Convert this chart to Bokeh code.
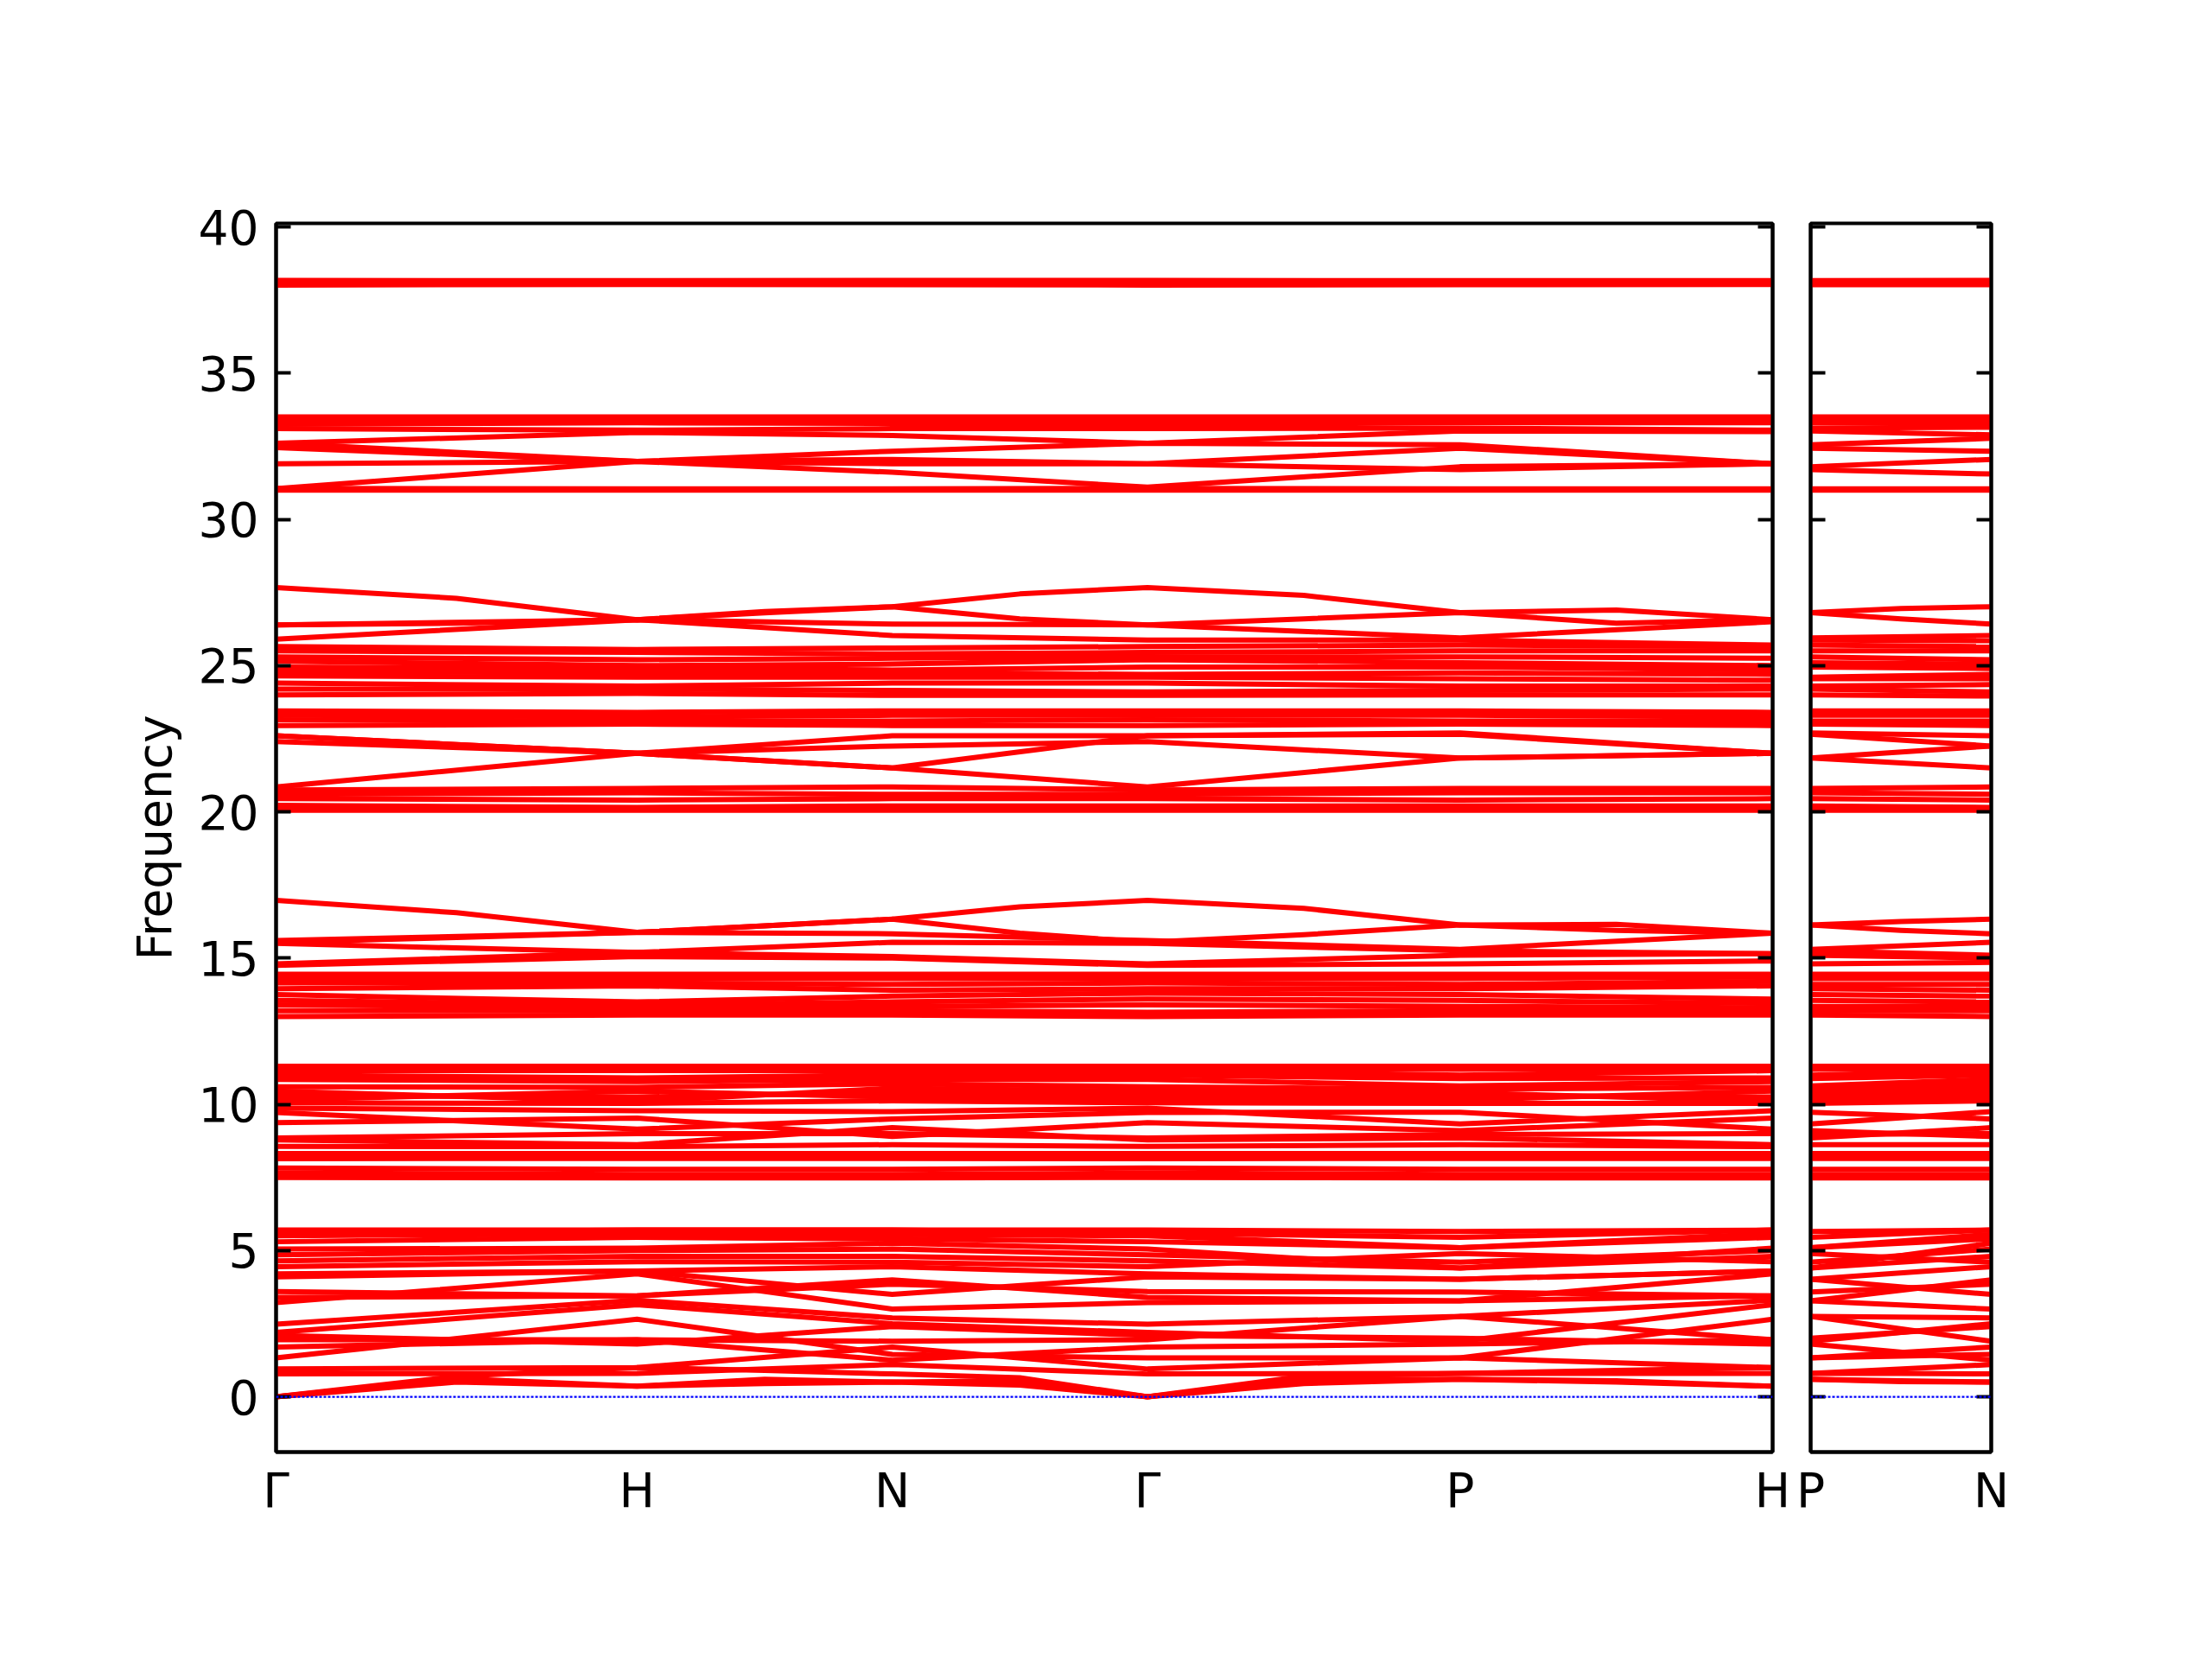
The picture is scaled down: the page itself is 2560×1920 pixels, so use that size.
import numpy as np
from bokeh.plotting import figure
from bokeh.layouts import row
from bokeh.models import FixedTicker, LinearAxis, Span, CustomJSTickFormatter, Range1d
from bokeh.embed import file_html
from bokeh.resources import INLINE

# ---------------- data ----------------
# bcc path (units of 2*pi/a): G-H-N-G-P-H | P-N
kpt_labels_main = ["Γ", "H", "N", "Γ", "P", "H"]
kpt_coords_main = [[0, 0, 0], [0, 1, 0], [0.5, 0.5, 0], [0, 0, 0], [0.5, 0.5, 0.5], [0, 1, 0]]
kpt_labels_side = ["P", "N"]
kpt_coords_side = [[0.5, 0.5, 0.5], [0.5, 0.5, 0]]

y_ticks = [0, 5, 10, 15, 20, 25, 30, 35, 40]

# band values: 8 values -> [G, H, N, G, P, H, P, N]
# 14 values -> [G, m, H, m, N, m, G, m, P, m, H, P, m, N] (m = segment middle)
bands_38 = [
    [38.01, 38.03, 38.02, 38.01, 38.02, 38.03, 38.02, 38.02],
    [38.09, 38.1, 38.1, 38.09, 38.1, 38.1, 38.1, 38.1],
    [38.17, 38.16, 38.17, 38.17, 38.16, 38.16, 38.16, 38.17],
]

bands_31_34 = [
    [33.5, 33.5, 33.5, 33.5, 33.5, 33.5, 33.5, 33.5],
    [33.4, 33.38, 33.4, 33.4, 33.38, 33.4, 33.38, 33.4],
    [33.25, 33.3, 33.28, 33.25, 33.3, 33.3, 33.3, 33.28],
    [33.1, 33.05, 33.1, 33.1, 33.12, 33.05, 33.12, 33.15],
    [32.6, 32.97, 32.87, 32.6, 33.02, 33.0, 33.02, 32.89],
    [32.6, 31.98, 32.33, 32.6, 32.55, 31.9, 32.55, 32.77],
    [32.45, 31.98, 32.05, 31.9, 32.43, 31.9, 32.43, 32.33],
    [31.9, 31.98, 31.61, 31.1, 31.8, 31.9, 31.8, 32.05],
    [31.05, 31.98, 31.9, 31.9, 31.7, 31.9, 31.7, 31.55],
    [31.0, 31.0, 31.0, 31.0, 31.0, 31.0, 31.0, 31.0],
    [31.06, 31.04, 31.04, 31.06, 31.04, 31.04, 31.04, 31.04],
]

bands_20_28 = [
    [27.67, 27.3, 26.57, 26.85, 27.01, 27.45, 27.67, 27.4, 26.81, 26.9, 26.57, 26.81, 26.95, 27.01],
    [26.39, 26.45, 26.57, 26.8, 27.01, 26.6, 26.39, 26.6, 26.81, 26.45, 26.57, 26.81, 26.6, 26.42],
    [26.39, 26.57, 26.42, 26.39, 25.95, 26.5, 25.95, 26.03],
    [25.9, 26.57, 26.03, 25.87, 25.87, 25.7, 25.87, 25.85],
    [25.65, 25.55, 25.6, 25.65, 25.7, 25.65, 25.7, 25.65],
    [25.5, 25.45, 25.4, 25.45, 25.5, 25.5, 25.5, 25.5],
    [25.3, 25.2, 25.25, 25.3, 25.3, 25.25, 25.3, 25.2],
    [25.15, 25.0, 25.05, 25.2, 25.1, 25.0, 25.1, 25.05],
    [24.95, 24.9, 24.85, 24.95, 24.95, 24.85, 24.95, 24.9],
    [24.8, 24.75, 24.75, 24.7, 24.75, 24.7, 24.6, 24.7],
    [24.65, 24.6, 24.6, 24.6, 24.55, 24.5, 24.55, 24.55],
    [24.4, 24.3, 24.4, 24.4, 24.3, 24.3, 24.3, 24.35],
    [24.2, 24.2, 24.15, 24.1, 24.15, 24.2, 24.2, 24.1],
    [24.0, 24.05, 23.98, 23.98, 24.0, 24.0, 24.0, 23.96],
    [23.45, 23.4, 23.45, 23.45, 23.45, 23.4, 23.45, 23.45],
    [23.3, 23.25, 23.3, 23.3, 23.3, 23.25, 23.3, 23.3],
    [23.15, 23.1, 23.1, 23.15, 23.1, 23.1, 23.1, 23.1],
    [22.95, 23.0, 22.95, 22.95, 23.0, 22.95, 23.0, 22.95],
    [22.6, 22.0, 22.6, 22.6, 22.7, 22.0, 22.7, 22.6],
    [22.4, 22.0, 22.25, 22.4, 21.84, 22.0, 21.84, 22.25],
    [22.6, 22.0, 21.5, 22.6, 22.65, 22.0, 22.65, 22.25],
    [20.85, 22.0, 21.5, 20.85, 21.84, 22.0, 21.84, 21.5],
    [20.75, 20.8, 20.85, 20.75, 20.8, 20.8, 20.8, 20.85],
    [20.6, 20.65, 20.6, 20.6, 20.65, 20.65, 20.65, 20.6],
    [20.45, 20.4, 20.45, 20.45, 20.4, 20.45, 20.45, 20.4],
    [20.22, 20.15, 20.2, 20.2, 20.2, 20.2, 20.2, 20.15],
    [20.05, 20.05, 20.05, 20.05, 20.05, 20.05, 20.05, 20.05],
]

bands_13_17 = [
    [16.97, 16.55, 15.88, 16.1, 16.33, 16.75, 16.97, 16.7, 16.13, 16.15, 15.85, 16.13, 16.25, 16.33],
    [15.54, 15.7, 15.88, 16.1, 16.33, 15.85, 15.54, 15.8, 16.13, 15.95, 15.85, 16.13, 15.95, 15.83],
    [15.6, 15.88, 15.83, 15.6, 15.3, 15.85, 15.3, 15.54],
    [15.5, 15.19, 15.54, 15.5, 15.25, 15.15, 15.25, 15.1],
    [14.8, 15.19, 15.05, 14.8, 15.1, 15.15, 15.1, 15.0],
    [14.75, 15.05, 15.0, 14.75, 14.8, 14.9, 14.8, 14.85],
    [14.45, 14.45, 14.45, 14.45, 14.45, 14.45, 14.45, 14.45],
    [14.3, 14.3, 14.3, 14.3, 14.3, 14.35, 14.3, 14.3],
    [14.15, 14.15, 14.1, 14.15, 14.1, 14.2, 14.1, 14.1],
    [13.95, 14.05, 13.9, 13.95, 13.95, 14.05, 13.95, 13.9],
    [13.75, 13.5, 13.7, 13.8, 13.75, 13.6, 13.75, 13.7],
    [13.55, 13.4, 13.5, 13.6, 13.55, 13.45, 13.55, 13.5],
    [13.4, 13.3, 13.35, 13.4, 13.35, 13.3, 13.35, 13.35],
    [13.2, 13.2, 13.2, 13.15, 13.2, 13.2, 13.2, 13.2],
    [13.0, 13.05, 13.05, 13.0, 13.05, 13.05, 13.05, 13.0],
]

bands_7_11 = [
    [7.5, 7.48, 7.48, 7.5, 7.48, 7.48, 7.48, 7.48],
    [7.65, 7.6, 7.6, 7.65, 7.6, 7.6, 7.6, 7.6],
    [7.82, 7.78, 7.78, 7.82, 7.78, 7.78, 7.78, 7.78],
    [8.14, 8.15, 8.15, 8.14, 8.15, 8.15, 8.15, 8.15],
    [8.32, 8.32, 8.32, 8.32, 8.32, 8.32, 8.32, 8.32],
    [8.56, 8.55, 8.62, 8.56, 8.62, 8.55, 8.62, 8.62],
    [8.78, 8.62, 9.2, 8.78, 8.85, 8.62, 8.85, 9.2],
    [8.85, 9.0, 9.0, 8.85, 8.97, 9.0, 8.97, 9.0],
    [9.37, 9.53, 8.9, 9.37, 9.1, 9.53, 9.1, 8.9],
    [9.72, 9.15, 9.5, 9.72, 9.73, 9.15, 9.73, 9.5],
    [9.87, 9.78, 9.75, 9.87, 9.33, 9.78, 9.33, 9.75],
    [10.05, 10.03, 10.12, 10.05, 10.03, 10.03, 10.03, 10.12],
    [10.15, 10.45, 10.25, 10.15, 10.15, 10.45, 10.15, 10.25],
    [10.3, 10.25, 10.4, 10.3, 10.3, 10.25, 10.3, 10.4],
    [10.45, 10.1, 10.55, 10.45, 10.4, 10.1, 10.4, 10.55],
    [10.6, 10.58, 10.7, 10.6, 10.52, 10.58, 10.52, 10.7],
    [10.85, 10.78, 10.85, 10.85, 10.63, 10.78, 10.63, 10.85],
    [11.0, 10.9, 11.0, 11.0, 10.88, 10.9, 10.88, 11.0],
    [11.15, 11.15, 11.15, 11.15, 11.0, 11.15, 11.0, 11.15],
    [11.22, 11.22, 11.22, 11.22, 11.2, 11.22, 11.2, 11.22],
    [11.3, 11.3, 11.3, 11.3, 11.3, 11.3, 11.3, 11.3],
]

bands_0_6 = [
    [0.0, 0.5, 0.36, 0.45, 0.5, 0.4, 0.0, 0.45, 0.6, 0.5, 0.36, 0.6, 0.55, 0.5],
    [0.0, 0.62, 0.36, 0.6, 0.5, 0.55, 0.0, 0.6, 0.6, 0.55, 0.36, 0.6, 0.52, 0.5],
    [0.0, 0.7, 1.0, 0.9, 0.78, 0.65, 0.0, 0.7, 0.8, 0.9, 1.0, 0.8, 0.8, 0.78],
    [0.78, 0.8, 1.1, 0.78, 0.8, 0.8, 0.8, 1.1],
    [0.95, 1.0, 1.7, 0.95, 1.33, 1.0, 1.33, 1.7],
    [1.33, 2.65, 1.45, 1.33, 1.33, 2.65, 1.33, 1.45],
    [1.7, 1.95, 1.25, 1.7, 1.8, 1.95, 1.8, 1.25],
    [1.95, 1.95, 1.9, 1.95, 2.75, 1.95, 2.75, 1.9],
    [2.1, 1.8, 2.4, 2.1, 2.0, 1.8, 2.0, 2.4],
    [2.2, 3.15, 2.5, 2.2, 1.9, 3.15, 1.9, 2.5],
    [2.48, 3.3, 2.7, 2.48, 2.75, 3.3, 2.75, 2.7],
    [3.22, 4.2, 3.0, 3.22, 3.28, 4.2, 3.28, 3.0],
    [3.4, 3.45, 4.0, 3.4, 3.28, 3.45, 3.28, 4.0],
    [3.6, 3.45, 3.85, 3.6, 3.58, 3.45, 3.58, 3.85],
    [4.1, 4.3, 3.5, 4.1, 4.02, 4.3, 4.02, 3.5],
    [4.2, 4.3, 4.45, 4.2, 4.02, 4.3, 4.02, 4.45],
    [4.45, 4.62, 4.6, 4.45, 4.9, 4.62, 4.9, 4.6],
    [4.65, 4.8, 4.8, 4.65, 4.4, 4.8, 4.4, 4.8],
    [4.85, 5.0, 5.05, 4.85, 4.6, 5.0, 4.6, 5.05],
    [5.05, 5.08, 5.25, 5.05, 4.4, 5.08, 4.4, 5.25],
    [5.3, 5.45, 5.4, 5.3, 5.1, 5.45, 5.1, 5.4],
    [5.5, 5.58, 5.55, 5.5, 5.1, 5.58, 5.1, 5.55],
    [5.6, 5.7, 5.7, 5.6, 5.45, 5.7, 5.45, 5.7],
    [5.7, 5.7, 5.7, 5.7, 5.65, 5.7, 5.65, 5.7],
]

# ---------------- geometry of the path ----------------
cm = np.array(kpt_coords_main, dtype=float)
x_main = np.concatenate([[0.0], np.cumsum(np.linalg.norm(np.diff(cm, axis=0), axis=1))])
x_main_mid = (x_main[:-1] + x_main[1:]) / 2
x_main_fine = np.empty(2 * len(x_main) - 1)
x_main_fine[0::2] = x_main
x_main_fine[1::2] = x_main_mid
cs = np.array(kpt_coords_side, dtype=float)
x_side = np.array([0.0, float(np.linalg.norm(cs[1] - cs[0]))])
x_side_fine = np.array([x_side[0], x_side.mean(), x_side[1]])

all_bands = bands_38 + bands_31_34 + bands_20_28 + bands_13_17 + bands_7_11 + bands_0_6
xs_m, ys_m, xs_s, ys_s = [], [], [], []
for b in all_bands:
    if len(b) == 8:
        xs_m.append(list(x_main)); ys_m.append(b[:6])
        xs_s.append(list(x_side)); ys_s.append(b[6:8])
    else:
        xs_m.append(list(x_main_fine)); ys_m.append(b[:11])
        xs_s.append(list(x_side_fine)); ys_s.append(b[11:14])

Y0, Y1 = -1.89, 40.12
FONT = "DejaVu Sans"
FS = "55px"
FRAME_H = 1422
PXU = 1732 / x_main[-1]
LW = 6


def style(p):
    p.outline_line_color = "black"
    p.outline_line_width = 4
    p.xgrid.visible = False
    p.ygrid.visible = False
    p.background_fill_color = "white"
    p.border_fill_color = "white"


def make_formatter(pos, names):
    return CustomJSTickFormatter(args=dict(pos=[float(v) for v in pos], names=names), code="""
        let best = 0; let bd = 1e9;
        for (let i = 0; i < pos.length; i++) { const d = Math.abs(pos[i] - tick); if (d < bd) { bd = d; best = i; } }
        return names[best];
    """)


def tick_only_axis(ax):
    ax.ticker = FixedTicker(ticks=y_ticks)
    ax.major_tick_in = 17
    ax.major_tick_out = 0
    ax.major_tick_line_width = 4
    ax.minor_tick_line_color = None
    ax.axis_line_width = 4
    ax.major_label_text_font_size = "0px"
    ax.major_label_standoff = 0


# ---------------- main panel ----------------
p1 = figure(frame_width=1732, frame_height=FRAME_H, output_backend="svg", toolbar_location=None,
            x_range=Range1d(0, float(x_main[-1])), y_range=Range1d(Y0, Y1),
            min_border_left=319, min_border_right=22, min_border_top=258, min_border_bottom=180)
style(p1)
p1.multi_line(xs=xs_m, ys=ys_m, line_color="#ff0000", line_width=LW, line_join="round")
p1.add_layout(Span(location=0, dimension="width", line_color="blue", line_width=2.3, line_dash="3 2"))

p1.xaxis.ticker = FixedTicker(ticks=[float(v) for v in x_main])
p1.xaxis.formatter = make_formatter(x_main, kpt_labels_main)
p1.xaxis.major_tick_in = 0
p1.xaxis.major_tick_out = 0
p1.xaxis.minor_tick_line_color = None
p1.xaxis.axis_line_width = 4
p1.xaxis.major_label_text_font = FONT
p1.xaxis.major_label_text_font_size = FS
p1.xaxis.major_label_text_color = "black"
p1.xaxis.major_label_standoff = 12

p1.yaxis.ticker = FixedTicker(ticks=y_ticks)
p1.yaxis.major_tick_in = 17
p1.yaxis.major_tick_out = 0
p1.yaxis.major_tick_line_width = 4
p1.yaxis.minor_tick_line_color = None
p1.yaxis.axis_line_width = 4
p1.yaxis.major_label_text_font = FONT
p1.yaxis.major_label_text_font_size = FS
p1.yaxis.major_label_text_color = "black"
p1.yaxis.major_label_standoff = 20
p1.yaxis.axis_label = "Frequency"
p1.yaxis.axis_label_text_font = FONT
p1.yaxis.axis_label_text_font_size = FS
p1.yaxis.axis_label_text_font_style = "normal"
p1.yaxis.axis_label_text_color = "black"
p1.yaxis.axis_label_standoff = 16

r1 = LinearAxis()
tick_only_axis(r1)
p1.add_layout(r1, "right")

# ---------------- side panel ----------------
p2 = figure(frame_width=int(round(PXU * x_side[-1])), frame_height=FRAME_H, output_backend="svg",
            toolbar_location=None,
            x_range=Range1d(0, float(x_side[-1])), y_range=Range1d(Y0, Y1),
            min_border_left=22, min_border_right=40, min_border_top=258, min_border_bottom=180)
style(p2)
p2.multi_line(xs=xs_s, ys=ys_s, line_color="#ff0000", line_width=LW, line_join="round")
p2.add_layout(Span(location=0, dimension="width", line_color="blue", line_width=2.3, line_dash="3 2"))

p2.xaxis.ticker = FixedTicker(ticks=[float(v) for v in x_side])
p2.xaxis.formatter = make_formatter(x_side, kpt_labels_side)
p2.xaxis.major_tick_in = 0
p2.xaxis.major_tick_out = 0
p2.xaxis.minor_tick_line_color = None
p2.xaxis.axis_line_width = 4
p2.xaxis.major_label_text_font = FONT
p2.xaxis.major_label_text_font_size = FS
p2.xaxis.major_label_text_color = "black"
p2.xaxis.major_label_standoff = 12

tick_only_axis(p2.yaxis[0])

r2 = LinearAxis()
tick_only_axis(r2)
p2.add_layout(r2, "right")

layout = row(p1, p2)
open("out.html", "w").write(file_html(layout, INLINE))
